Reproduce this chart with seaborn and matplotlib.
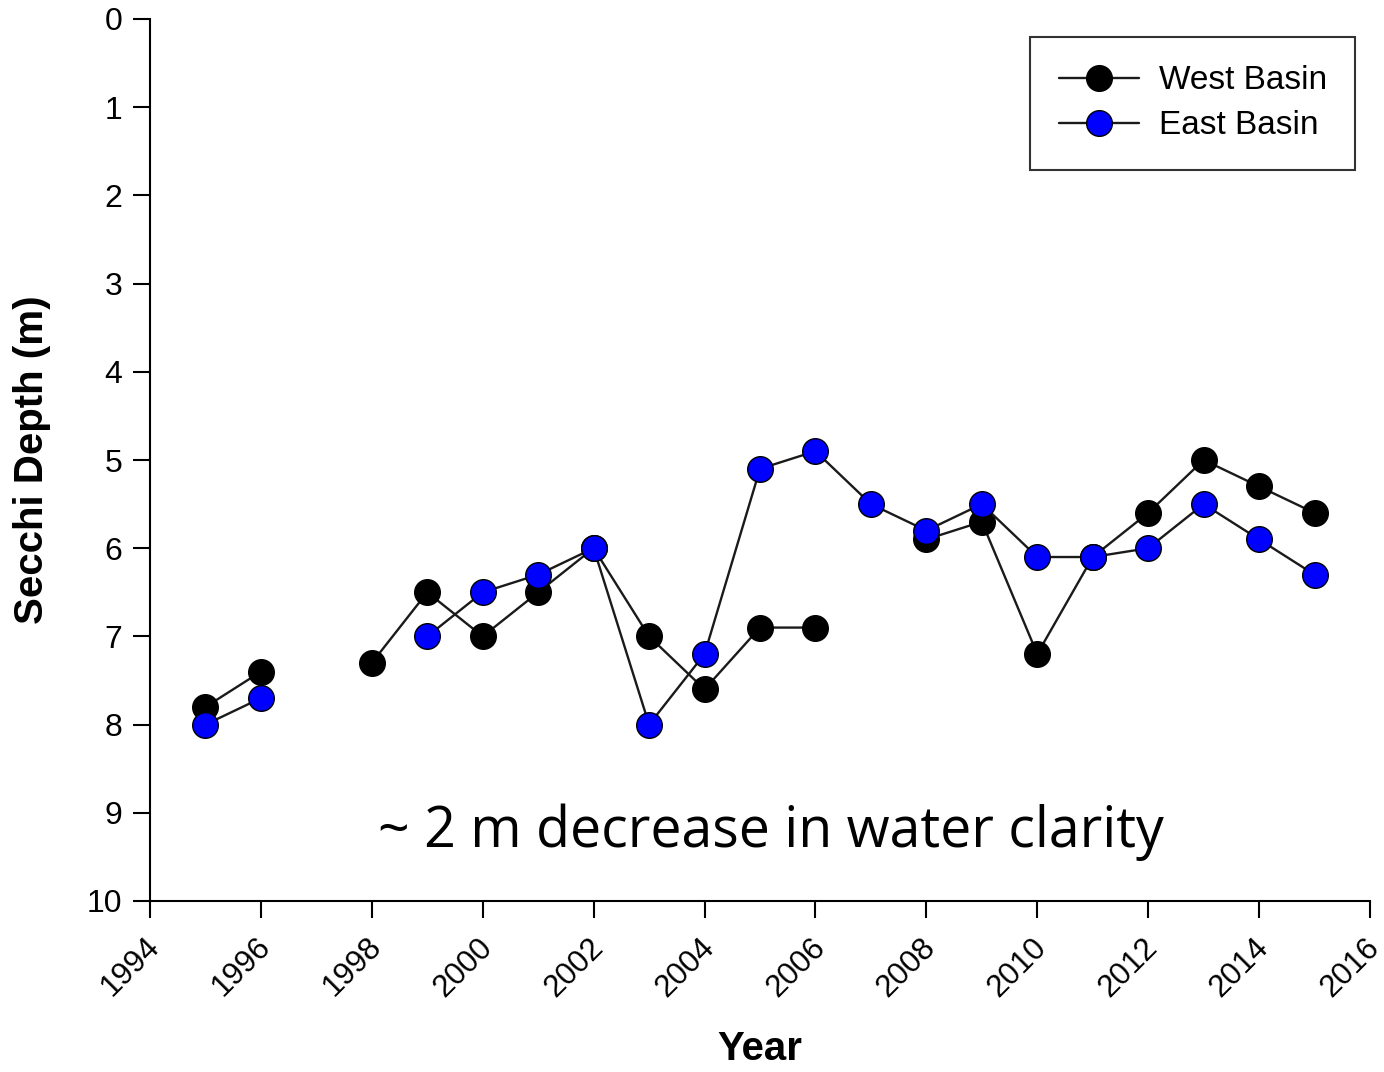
import numpy as np
import pandas as pd
import matplotlib
matplotlib.use("Agg")
import matplotlib.pyplot as plt
import matplotlib.transforms as mtransforms
from matplotlib.lines import Line2D
import seaborn as sns

years = list(range(1995, 2016))
west = [7.8, 7.4, np.nan, 7.3, 6.5, 7.0, 6.5, 6.0, 7.0, 7.6, 6.9, 6.9, np.nan,
        5.9, 5.7, 7.2, 6.1, 5.6, 5.0, 5.3, 5.6]
east = [8.0, 7.7, np.nan, np.nan, 7.0, 6.5, 6.3, 6.0, 8.0, 7.2, 5.1, 4.9, 5.5,
        5.8, 5.5, 6.1, 6.1, 6.0, 5.5, 5.9, 6.3]
series_names = ["West Basin", "East Basin"]
face_colors = {"West Basin": "black", "East Basin": "#0000ff"}
x_ticks = list(range(1994, 2017, 2))
y_ticks = list(range(0, 11))
annotation = "~ 2 m decrease in water clarity"

def to_frame(name, vals):
    df = pd.DataFrame({"Year": years, "Depth": vals, "Basin": name})
    df["seg"] = df["Depth"].isna().cumsum()
    return df.dropna()

frames = {n: to_frame(n, v) for n, v in zip(series_names, [west, east])}

sns.set_theme(style="ticks")
plt.rcParams['font.family'] = ['Liberation Sans', 'DejaVu Sans']
plt.rcParams['text.color'] = 'black'
plt.rcParams['axes.labelcolor'] = 'black'
plt.rcParams['xtick.color'] = 'black'
plt.rcParams['ytick.color'] = 'black'

fig = plt.figure(figsize=(13.84, 10.72), dpi=100)
ax = fig.add_axes([150/1384, 1-901/1072, 1220/1384, 882/1072])

z = 2
for name in series_names:
    df = frames[name]
    sns.lineplot(data=df, x="Year", y="Depth", units="seg", estimator=None,
                 color="#1a1a1a", linewidth=1.7, ax=ax, zorder=z, legend=False)
    sns.scatterplot(data=df, x="Year", y="Depth", color=face_colors[name],
                    edgecolor="black", linewidth=1.0, s=340, ax=ax,
                    zorder=z + 1, legend=False)
    z += 2

ax.set_xlim(1994, 2016)
ax.set_ylim(10, 0)
ax.set_xticks(x_ticks)
ax.set_yticks(y_ticks)
ax.set_xticklabels([str(t) for t in x_ticks], rotation=45, ha="right",
                   va="center", rotation_mode="anchor", fontsize=22.5)
ax.set_yticklabels([str(t) for t in y_ticks], fontsize=23)
ax.tick_params(axis="both", direction="out", length=12, width=1.5, color="black",
               pad=8, labelcolor="black")
ax.tick_params(axis="x", pad=18)
shift = mtransforms.ScaledTranslation(5/100, 0, fig.dpi_scale_trans)
for lab in ax.get_xticklabels():
    lab.set_transform(lab.get_transform() + shift)
for side in ["left", "bottom"]:
    ax.spines[side].set_linewidth(1.5)
    ax.spines[side].set_color("black")
for side in ["top", "right"]:
    ax.spines[side].set_visible(False)

ax.set_xlabel("Year", fontsize=29, fontweight="bold", labelpad=20)
ax.set_ylabel("Secchi Depth (m)", fontsize=29, fontweight="bold", labelpad=26)

handles = [Line2D([0], [0], color="#1a1a1a", linewidth=1.7, marker="o",
                  markersize=18.5, markerfacecolor=face_colors[n],
                  markeredgecolor="black", markeredgewidth=1.0)
           for n in series_names]
leg = ax.legend(handles, series_names, loc="upper right",
                bbox_to_anchor=((1355-150)/1220, 1-(37-19)/882),
                borderaxespad=0, fontsize=24, frameon=True, fancybox=False,
                handlelength=2.4, handletextpad=0.6, borderpad=0.85,
                labelspacing=0.42)
leg.get_frame().set_edgecolor("black")
leg.get_frame().set_linewidth(1.5)

ax.text(2005.2, 9.39, annotation, ha="center", va="baseline", fontsize=40,
        family=["Open Sans", "DejaVu Sans"], color="black")

fig.savefig("out.png", dpi=100, facecolor="white")
